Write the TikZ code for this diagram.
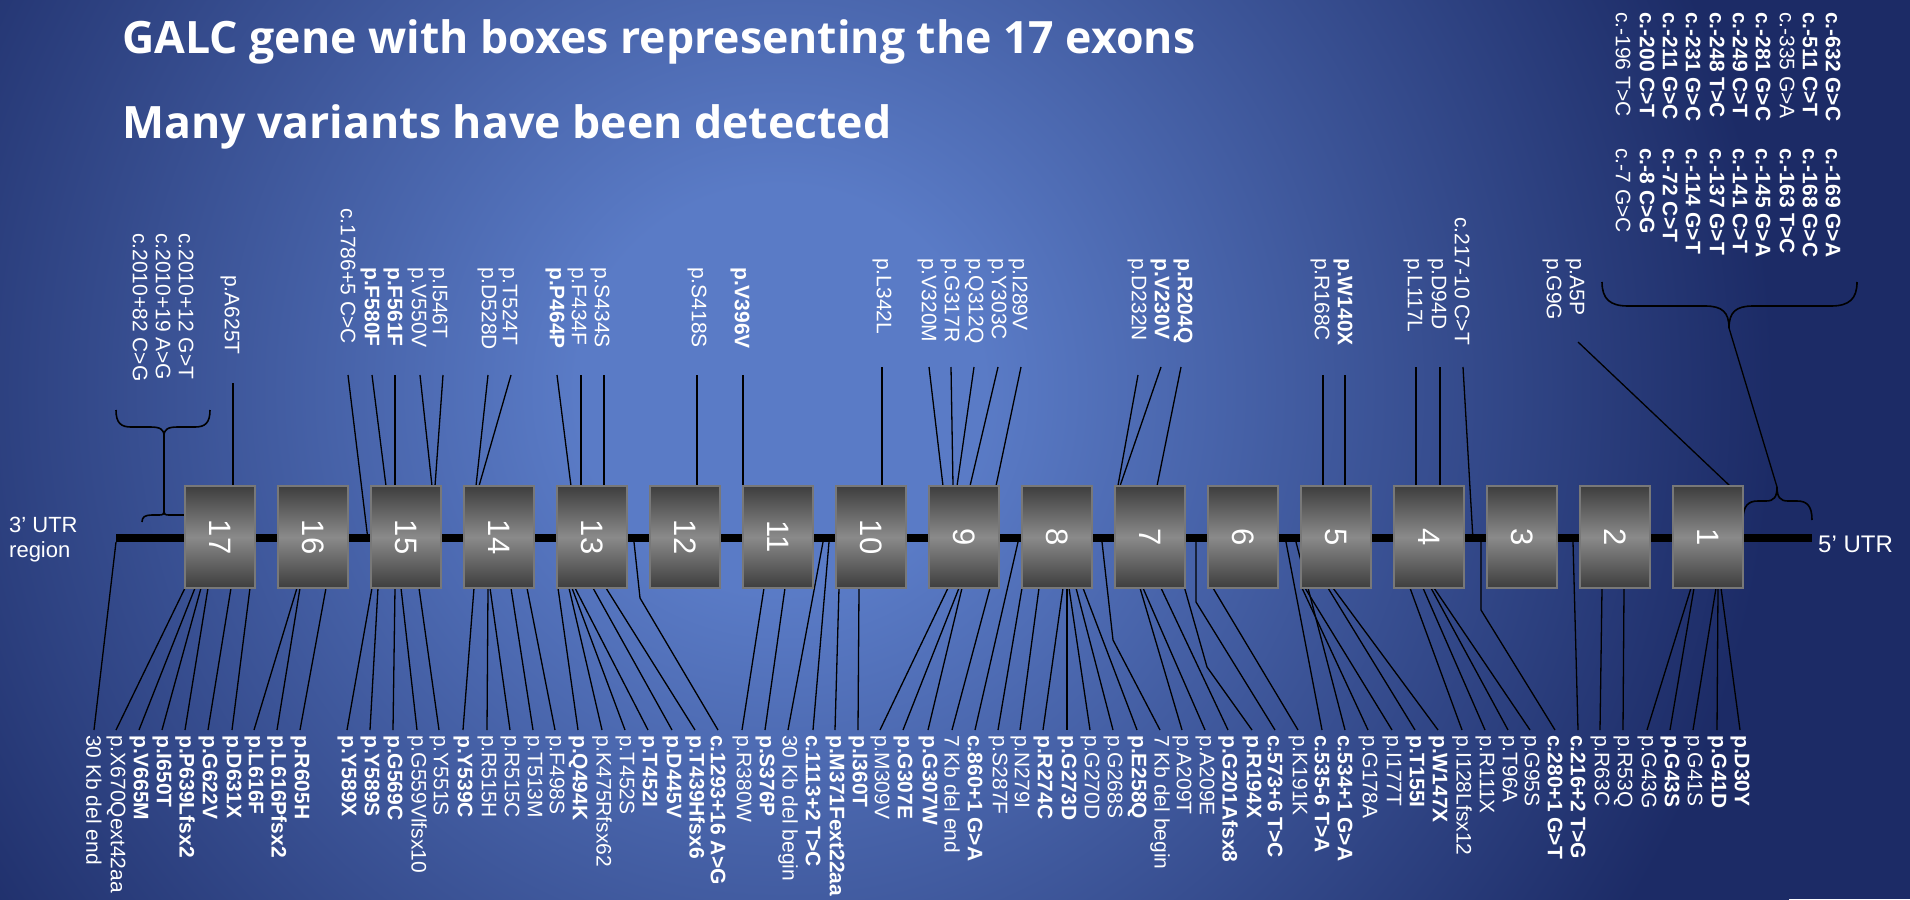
\documentclass[tikz,border=0pt]{standalone}
\usepackage{fontspec}
\setmainfont{Liberation Sans}
\newfontfamily\titlefont{Open Sans}
\definecolor{bgin}{RGB}{90,123,198}
\definecolor{bgout}{RGB}{28,43,102}
\definecolor{exondark}{RGB}{62,62,62}
\definecolor{exonlight}{RGB}{138,138,138}
\definecolor{exonedge}{RGB}{120,120,120}
\pgfdeclareradialshading{bgrad}{\pgfpoint{0bp}{0bp}}{color(0bp)=(bgin); color(4.5bp)=(bgin); color(22bp)=(bgout); color(50bp)=(bgout)}
\newcommand\labf{\fontsize{21}{23}\selectfont}
\begin{document}
\begin{tikzpicture}[x=1pt,y=-1pt,
  lab/.style={rotate=-90, anchor=west, inner sep=0pt, text=white},
  conn/.style={black, line width=1.3pt},
  brc/.style={black, line width=1.6pt},
  exon/.style={draw=exonedge, line width=1.5pt, minimum width=70pt, minimum height=102pt, inner sep=0pt,
    top color=exondark, bottom color=exondark, middle color=exonlight, text=white,
    font=\fontsize{31}{31}\selectfont},
  plain/.style={inner sep=0pt, text=white}]
\useasboundingbox (0,0) rectangle (1910,899);
\fill[bgout] (0,0) rectangle (1910,899);
\begin{scope}
\clip (0,0) rectangle (1910,899);
\shade[shading=bgrad] (780,390) circle (1130pt);
\end{scope}

% titles
\node[plain, anchor=base west, font=\titlefont\bfseries\fontsize{44.6}{48}\selectfont] (title1) at (122,54) {GALC gene with boxes representing the 17 exons};
\node[plain, anchor=base west, font=\titlefont\bfseries\fontsize{44.6}{48}\selectfont] (title2) at (122,138) {Many variants have been detected};

% UTR labels
\node[plain, anchor=base west, font=\fontsize{22}{24}\selectfont] (utr3a) at (9,532) {3' UTR};
\node[plain, anchor=base west, font=\fontsize{22}{24}\selectfont] (utr3b) at (9,557) {region};
\node[plain, anchor=base west, font=\fontsize{24}{26}\selectfont] (utr5) at (1818,552) {5' UTR};

% lower labels, straight connectors
\foreach \x/\txt/\fw/\gx/\gy [count=\i] in {
94/{30 Kb del end}/r/116/542,
116/p.X670Qext42aa/r/185/588,
139/p.V665M/b/195/588,
162/p.I650T/b/201/588,
185/p.P639Lfsx2/b/208/588,
208/p.G622V/b/231/588,
232/p.D631X/b/250/588,
254/p.L616F/b/297/588,
277/p.L616Pfsx2/b/300/588,
300/p.R605H/b/326/588,
347/p.Y589X/b/372/588,
370/p.Y589S/b/378/588,
393/p.G569C/b/395/588,
417/p.G559Vlfsx10/r/401/588,
439/p.Y551S/r/419/588,
463/p.Y539C/b/474/588,
487/p.R515H/r/488/588,
510/p.R515C/r/490/588,
533/p.T513M/r/511/588,
555/p.F498S/r/527/588,
578/p.Q494K/b/558/588,
602/p.K475Rfsx62/r/569/588,
625/p.T452S/r/572/588,
648/p.T452I/b/575/588,
672/p.D445V/b/593/588,
695/p.T439Hfsx6/b/606/588,
742/p.R380W/r/764/588,
765/p.S376P/b/785/588,
788/{30 Kb del begin}/r/823/542,
813/{c.1113+2 T>C}/b/829/542,
835/p.M371Fext22aa/b/839/588,
858/p.I360T/b/859/588,
880/p.M309V/r/948/588,
903/p.G307E/b/959/588,
928/p.G307W/b/962/588,
952/{7 Kb del end}/r/990/588,
975/{c.860+1 G>A}/b/1018/542,
998/p.S287F/r/1022/588,
1020/p.N279I/r/1039/588,
1043/p.R274C/b/1063/588,
1067/p.G273D/b/1067/588,
1090/p.G270D/r/1069/588,
1113/p.G268S/r/1076/588,
1137/p.E258Q/b/1083/588,
1182/p.A209T/r/1140/588,
1205/p.A209E/r/1143/588,
1228/p.G201Afsx8/b/1161/588,
1298/p.K191K/r/1213/588,
1322/{c.535-6 T>A}/b/1286/542,
1345/{c.534+1 G>A}/b/1296/542,
1368/p.G178A/r/1302/588,
1392/p.I177T/r/1305/588,
1415/p.T155I/b/1328/588,
1438/p.W147X/b/1333/588,
1462/p.I128Lfsx12/r/1410/588,
1485/p.R111X/r/1423/588,
1508/p.T96A/r/1431/588,
1530/p.G95S/r/1434/588,
1578/{c.216+2 T>G}/b/1573/542,
1600/p.R63C/r/1602/588,
1623/p.R53Q/r/1624/588,
1647/p.G43G/r/1691/588,
1670/p.G43S/b/1694/588,
1693/p.G41S/r/1716/588,
1717/p.G41D/b/1718/588,
1740/p.D30Y/b/1721/588}{
  \node[lab, font=\labf\if b\fw\bfseries\fi] (lo\i) at (\x,735) {\txt};
  \draw[conn] (\gx,\gy) -- ([yshift=5pt]lo\i.west);
}

% lower labels, bent connectors
\foreach \x/\txt/\fw/\gx/\gy/\kx/\ky [count=\i] in {
718/{c.1293+16 A>G}/b/634/542/640/598,
1160/{7 Kb del begin}/r/1102/542/1113/640,
1252/p.R194X/b/1184/586/1207/667,
1275/{c.573+6 T>C}/b/1196/542/1196/602,
1555/{c.280+1 G>T}/b/1481/542/1481/610}{
  \node[lab, font=\labf\if b\fw\bfseries\fi] (lk\i) at (\x,735) {\txt};
  \draw[conn] (\gx,\gy) -- (\kx,\ky) -- ([yshift=5pt]lk\i.west);
}

% upper labels with connectors
\foreach \x/\yt/\txt/\fw/\lx/\ly/\gx/\gy [count=\i] in {
230/275/p.A625T/r/233/383/233/486,
348/208/{c.1786+5 C>C}/r/348/375/368/540,
370/267/p.F580F/b/372/375/386/486,
393/267/p.F561F/b/395/375/395/486,
417/267/p.V550V/r/420/375/432/486,
438/267/p.I546T/r/443/375/435/486,
487/267/p.D528D/r/488/375/476/486,
508/267/p.T524T/r/511/375/479/486,
555/267/p.P464P/b/557/375/571/486,
577/267/p.F434F/r/581/375/581/486,
600/267/p.S434S/r/604/375/604/486,
697/267/p.S418S/r/697/375/697/486,
740/267/p.V396V/b/743/375/743/486,
882/258/p.L342L/r/882/367/882/486,
927/258/p.V320M/r/929/367/943/486,
950/258/p.G317R/r/951/367/953/486,
974/258/p.Q312Q/r/974/367/957/486,
997/258/p.Y303C/r/998/367/970/486,
1018/258/p.I289V/r/1021/367/996/486,
1137/258/p.D232N/r/1138/375/1115/502,
1160/258/p.V230V/b/1161/367/1120/486,
1183/258/p.R204Q/b/1181/367/1157/486,
1320/258/p.R168C/r/1323/375/1323/486,
1343/258/p.W140X/b/1345/375/1345/486,
1413/258/p.L117L/r/1416/367/1416/486,
1437/258/p.D94D/r/1440/367/1440/486,
1462/217/{c.217-10 C>T}/r/1463/367/1473/540,
1575/258/p.A5P/r/1578/342/1730/486}{
  \node[lab, font=\labf\if b\fw\bfseries\fi] (up\i) at (\x,\yt) {\txt};
  \coordinate (upc\i) at (\lx,\ly);
  \draw[conn] (upc\i) -- (\gx,\gy);
}

% upper labels without own connector
\node[lab, font=\labf] (u3a) at (140,233) {c.2010+82 C>G};
\node[lab, font=\labf] (u3b) at (163,233) {c.2010+19 A>G};
\node[lab, font=\labf] (u3c) at (186,233) {c.2010+12 G>T};
\node[lab, font=\labf] (ug9) at (1552,258) {p.G9G};

% top-right block of 5' UTR variants
\foreach \x/\ta/\fA/\tb/\fB [count=\i] in {
1623/{c.-196 T>C}/r/{c.-7 G>C}/r,
1647/{c.-200 C>T}/b/{c.-8 C>G}/b,
1670/{c.-211 G>C}/b/{c.-72 C>T}/b,
1693/{c.-231 G>C}/b/{c.-114 G>T}/b,
1717/{c.-248 T>C}/b/{c.-137 G>T}/b,
1740/{c.-249 C>T}/b/{c.-141 C>T}/b,
1763/{c.-281 G>C}/b/{c.-145 G>A}/b,
1787/{c.-335 G>A}/r/{c.-163 T>C}/b,
1810/{c.-511 C>T}/b/{c.-168 G>C}/b,
1833/{c.-632 G>C}/b/{c.-169 G>A}/b}{
  \node[lab, font=\labf\if b\fA\bfseries\fi] (tra\i) at (\x,12) {\ta};
  \node[lab, font=\labf\if b\fB\bfseries\fi] (trb\i) at (\x,148) {\tb};
}

% braces, 3' side
\coordinate (ltip) at (164,436);
\coordinate (lstip) at (164,512);
\draw[brc] (116,410) .. controls (116,423) and (121,427) .. (131,427) -- (150,427)
  .. controls (160,427) and (164,429) .. (ltip)
  .. controls (164,429) and (168,427) .. (178,427) -- (195,427)
  .. controls (205,427) and (210,423) .. (210,410);
\draw[brc] (ltip) -- (lstip);
\draw[brc] (142,522) .. controls (142,517) and (145,515) .. (152,515) -- (159,515)
  .. controls (163,515) and (164,514) .. (lstip)
  .. controls (164,514) and (165,515) .. (169,515) -- (185,515);

% braces, 5' side
\coordinate (rtip) at (1729,328);
\coordinate (rstip) at (1777,487);
\draw[brc] (1602,282) .. controls (1602,299) and (1610,306) .. (1628,306) -- (1705,306)
  .. controls (1722,306) and (1729,312) .. (rtip)
  .. controls (1729,312) and (1736,306) .. (1753,306) -- (1831,306)
  .. controls (1849,306) and (1857,299) .. (1857,282);
\draw[conn] (rtip) -- (rstip);
\draw[brc] (1743,520) .. controls (1743,506) and (1748,501) .. (1758,501) -- (1766,501)
  .. controls (1774,501) and (1777,497) .. (rstip)
  .. controls (1777,497) and (1780,501) .. (1788,501) -- (1797,501)
  .. controls (1807,501) and (1812,506) .. (1812,520);

% gene line and exons
\coordinate (g3) at (116,538);
\coordinate (g5) at (1812,538);
\draw[line width=8pt] (g3) -- (g5);
\foreach \k in {1,...,17}{
  \node[exon] (e\k) at ({220+93*(17-\k)},537) {\rotatebox{-90}{\k}};
}
\end{tikzpicture}
\end{document}
